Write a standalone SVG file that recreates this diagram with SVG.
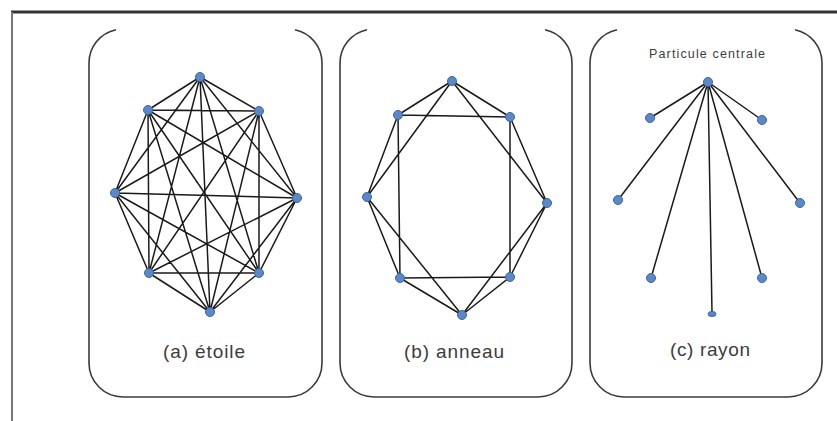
<svg xmlns="http://www.w3.org/2000/svg" width="837" height="421" viewBox="0 0 837 421">
<style>
.box{fill:none;stroke:#3a3a3a;stroke-width:1.6}
.e{stroke:#1a1a1a;stroke-width:1.5;fill:none}
.n{fill:#5b88c8;stroke:#3d66a3;stroke-width:1}
.lbl{font-family:"Liberation Sans",Arial,sans-serif;font-size:19px;fill:#3c3c3c;text-anchor:middle}
.small{font-family:"Liberation Sans",Arial,sans-serif;font-size:12.5px;fill:#3c3c3c;text-anchor:middle}
</style>
<rect width="837" height="421" fill="#ffffff"/>
<g id="frame">
<line x1="11" y1="12" x2="837" y2="12" stroke="#333" stroke-width="3"/>
<line x1="12" y1="12" x2="12" y2="421" stroke="#777" stroke-width="2"/>
</g>
<g id="boxes">
<path class="box" d="M116,29.7 A34,34 0 0 0 89,63 L89,363 A34,34 0 0 0 123,397 L288,397 A34,34 0 0 0 322,363 L322,63 A34,34 0 0 0 295,29.7"/>
<path class="box" d="M367,29.7 A34,34 0 0 0 340,63 L340,363 A34,34 0 0 0 374,397 L538,397 A34,34 0 0 0 572,363 L572,63 A34,34 0 0 0 545,29.7"/>
<path class="box" d="M617,29.7 A34,34 0 0 0 590,63 L590,363 A34,34 0 0 0 624,397 L788,397 A34,34 0 0 0 822,363 L822,63 A34,34 0 0 0 795,29.7"/>
</g>
<g id="connectors">
<path class="e" d="M200,77L148,110 M200,77L259,111 M200,77L115,193 M200,77L297,198 M200,77L149,273 M200,77L259,273 M200,77L210,312
M148,110L259,111 M148,110L115,193 M148,110L297,198 M148,110L149,273 M148,110L259,273 M148,110L210,312
M259,111L115,193 M259,111L297,198 M259,111L149,273 M259,111L259,273 M259,111L210,312
M115,193L297,198 M115,193L149,273 M115,193L259,273 M115,193L210,312
M297,198L149,273 M297,198L259,273 M297,198L210,312
M149,273L259,273 M149,273L210,312
M259,273L210,312"/>
<path class="e" d="M452,81L398,115 M452,81L510,117 M510,117L547,203 M547,203L510,277 M510,277L462,315 M462,315L400,278 M400,278L367,197 M367,197L398,115
M452,81L367,197 M452,81L547,203 M398,115L510,117 M510,117L510,277 M547,203L462,315 M510,277L400,278 M462,315L367,197 M400,278L398,115"/>
<path class="e" d="M708,82L650,118 M708,82L762,120 M708,82L618,200 M708,82L800,203 M708,82L651,278 M708,82L762,278 M708,82L712,312"/>
</g>
<g id="graph-a">
<circle class="n" cx="200" cy="77" r="4.5"/>
<circle class="n" cx="148" cy="110" r="4.5"/>
<circle class="n" cx="259" cy="111" r="4.5"/>
<circle class="n" cx="115" cy="193" r="4.5"/>
<circle class="n" cx="297" cy="198" r="4.5"/>
<circle class="n" cx="149" cy="273" r="4.5"/>
<circle class="n" cx="259" cy="273" r="4.5"/>
<circle class="n" cx="210" cy="312" r="4.5"/>
<text class="lbl" x="204" y="358" textLength="82">(a) étoile</text>
</g>
<g id="graph-b">
<circle class="n" cx="452" cy="81" r="4.5"/>
<circle class="n" cx="398" cy="115" r="4.5"/>
<circle class="n" cx="510" cy="117" r="4.5"/>
<circle class="n" cx="367" cy="197" r="4.5"/>
<circle class="n" cx="547" cy="203" r="4.5"/>
<circle class="n" cx="400" cy="278" r="4.5"/>
<circle class="n" cx="510" cy="277" r="4.5"/>
<circle class="n" cx="462" cy="315" r="4.5"/>
<text class="lbl" x="454" y="358" textLength="100">(b) anneau</text>
</g>
<g id="graph-c">
<text class="small" x="707" y="58" textLength="116">Particule centrale</text>
<circle class="n" cx="708" cy="82" r="4.5"/>
<circle class="n" cx="650" cy="118" r="4.5"/>
<circle class="n" cx="762" cy="120" r="4.5"/>
<circle class="n" cx="618" cy="200" r="4.5"/>
<circle class="n" cx="800" cy="203" r="4.5"/>
<circle class="n" cx="651" cy="278" r="4.5"/>
<circle class="n" cx="762" cy="278" r="4.5"/>
<ellipse class="n" cx="712" cy="314" rx="4" ry="2.5"/>
<text class="lbl" x="710" y="356" textLength="80">(c) rayon</text>
</g>
</svg>
